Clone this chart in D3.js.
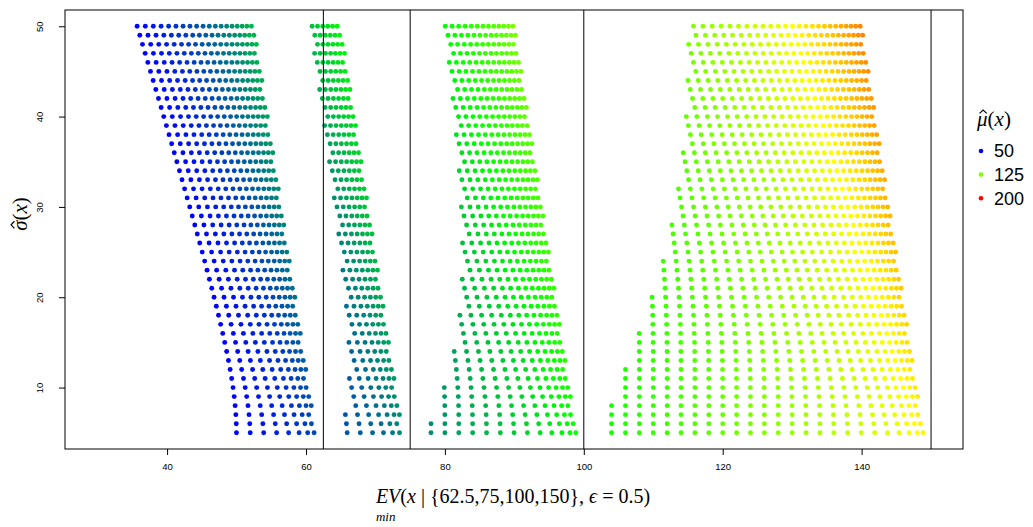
<!DOCTYPE html>
<html>
<head>
<meta charset="utf-8">
<script src="https://cdn.jsdelivr.net/npm/d3@7"></script>
<style>
  html, body { margin: 0; padding: 0; background: #fff; }
  svg { display: block; }
  .tick text { font-family: "Liberation Sans", Arial, sans-serif; font-size: 9.5px; fill: #000; }
  .tick line { stroke: #000; }
</style>
</head>
<body>
<svg id="chart" width="1033" height="527"></svg>
<script>
// Grid of estimated means and standard deviations
const muValues = [50, 52, 54, 56, 58, 60, 62, 64, 66, 68, 70, 72, 74, 76, 78, 80, 82, 84, 86, 88,
  90, 92, 94, 96, 98, 100, 102, 104, 106, 108, 110, 112, 114, 116, 118, 120, 122, 124, 126, 128,
  130, 132, 134, 136, 138, 140, 142, 144, 146, 148, 150, 152, 154, 156, 158, 160, 162, 164, 166, 168,
  170, 172, 174, 176, 178, 180, 182, 184, 186, 188, 190, 192, 194, 196, 198, 200];
const sigmaValues = [5, 6, 7, 8, 9, 10, 11, 12, 13, 14, 15, 16, 17, 18, 19, 20, 21, 22, 23, 24,
  25, 26, 27, 28, 29, 30, 31, 32, 33, 34, 35, 36, 37, 38, 39, 40, 41, 42, 43, 44,
  45, 46, 47, 48, 49, 50];
// Aspiration thresholds and tolerance
const thresholds = [62.5, 75, 100, 150];
const epsilon = 0.5;

const xTicks = [40, 60, 80, 100, 120, 140];
const yTicks = [10, 20, 30, 40, 50];
const legendValues = [50, 125, 200];
const colorStops = [50, 100, 150, 200];
const colorNames = ["#0000ff", "#00ff00", "#ffff00", "#ff0000"];

// Standard normal density and distribution
function phi(z) { return Math.exp(-0.5 * z * z) / Math.sqrt(2 * Math.PI); }
function Phi(z) {
  const t = 1 / (1 + 0.3275911 * Math.abs(z) / Math.SQRT2);
  const e = 1 - (((((1.061405429 * t - 1.453152027) * t) + 1.421413741) * t - 0.284496736) * t + 0.254829592) * t * Math.exp(-z * z / 2);
  return z >= 0 ? 0.5 * (1 + e) : 0.5 * (1 - e);
}
// Expected value of min(X, t) for X ~ N(mu, sigma), capped at the first
// threshold lying above mu - epsilon * sigma
function evMin(mu, sigma) {
  const cap = thresholds.find(t => t > mu - epsilon * sigma);
  if (cap === undefined) return null;
  const d = mu - cap, z = d / sigma;
  return mu - (d * Phi(z) + sigma * phi(z));
}

const points = [];
sigmaValues.forEach(s => {
  muValues.forEach(m => {
    const ev = evMin(m, s);
    if (ev !== null) points.push({ mu: m, sigma: s, ev: ev });
  });
});

const svg = d3.select("#chart");
svg.append("rect").attr("width", 1033).attr("height", 527).attr("fill", "#fff");

const plotLeft = 65, plotRight = 963, plotTop = 10, plotBottom = 449;
const x = d3.scaleLinear().domain([25.3, 154.6]).range([plotLeft, plotRight]);
const y = d3.scaleLinear().domain([3.2, 51.8]).range([plotBottom, plotTop]);
const color = d3.scaleLinear().domain(colorStops).range(colorNames).interpolate(d3.interpolateRgb);

// Points
svg.append("g").selectAll("circle")
  .data(points)
  .join("circle")
  .attr("cx", d => x(d.ev))
  .attr("cy", d => y(d.sigma))
  .attr("r", 2.45)
  .attr("fill", d => color(d.mu));

// Threshold lines
svg.append("g").selectAll("line")
  .data(thresholds)
  .join("line")
  .attr("x1", d => x(d)).attr("x2", d => x(d))
  .attr("y1", plotTop).attr("y2", plotBottom)
  .attr("stroke", "#000").attr("stroke-width", 1);

// Frame
svg.append("rect")
  .attr("x", plotLeft).attr("y", plotTop)
  .attr("width", plotRight - plotLeft).attr("height", plotBottom - plotTop)
  .attr("fill", "none").attr("stroke", "#000").attr("stroke-width", 1);

// Axes
const gx = svg.append("g").attr("transform", `translate(0,${plotBottom})`)
  .call(d3.axisBottom(x).tickValues(xTicks).tickSize(6).tickPadding(8).tickFormat(d3.format("d")));
gx.select(".domain").remove();

const gy = svg.append("g").attr("transform", `translate(${plotLeft},0)`)
  .call(d3.axisLeft(y).tickValues(yTicks).tickSize(6).tickFormat(d3.format("d")));
gy.select(".domain").remove();
gy.selectAll(".tick text")
  .attr("transform", "rotate(-90)")
  .attr("text-anchor", "middle")
  .attr("x", 0).attr("y", -25).attr("dy", "0.35em");

const serif = "'Liberation Serif', 'Times New Roman', serif";

// Writes "<greek>(x)" with a circumflex accent over the Greek letter
function hatLabel(g, greek, size) {
  const t = g.append("text")
    .attr("x", 0).attr("y", 0)
    .attr("font-family", serif).attr("font-size", size).attr("fill", "#000");
  t.append("tspan").attr("font-style", "italic").text(greek);
  t.append("tspan").text("(");
  t.append("tspan").attr("font-style", "italic").text("x");
  t.append("tspan").text(")");
  const ext = t.node().getExtentOfChar(0);
  const cx = ext.x + ext.width / 2 + size * 0.04;
  const w = size * 0.17;
  g.append("path")
    .attr("d", `M${cx - w},${-size * 0.6}L${cx},${-size * 0.76}L${cx + w},${-size * 0.6}`)
    .attr("fill", "none").attr("stroke", "#000").attr("stroke-width", size * 0.055);
  return t;
}

// x-axis title
const title = svg.append("text")
  .attr("x", 513).attr("y", 503)
  .attr("text-anchor", "middle")
  .attr("font-family", serif).attr("font-size", 20).attr("fill", "#000");
title.append("tspan").attr("font-style", "italic").text("EV");
title.append("tspan").text("(");
title.append("tspan").attr("font-style", "italic").text("x");
title.append("tspan").text(" | {62.5,75,100,150}, ");
title.append("tspan").attr("font-style", "italic").text("\u03F5");
title.append("tspan").text(" = 0.5)");
const tb = title.node().getBBox();
svg.append("text")
  .attr("x", tb.x + 1).attr("y", 521)
  .attr("font-family", serif).attr("font-style", "italic").attr("font-size", 13)
  .attr("fill", "#000").text("min");

// y-axis title
const ylabG = svg.append("g");
const ylabText = hatLabel(ylabG, "\u03C3", 21);
const yw = ylabText.node().getComputedTextLength();
ylabG.attr("transform", `translate(27,${214 + yw / 2}) rotate(-90)`);

// Legend
const legTitleG = svg.append("g").attr("transform", "translate(977,126)");
hatLabel(legTitleG, "\u03BC", 21);

const leg = svg.append("g").selectAll("g")
  .data(legendValues)
  .join("g")
  .attr("transform", (d, i) => `translate(981,${151 + i * 23.6})`);
leg.append("circle").attr("r", 2.3).attr("fill", d => color(d));
leg.append("text")
  .attr("x", 13).attr("dy", "0.36em")
  .attr("font-family", "'Liberation Sans', Arial, sans-serif").attr("font-size", 18)
  .attr("fill", "#000").text(d => d);
</script>
</body>
</html>
